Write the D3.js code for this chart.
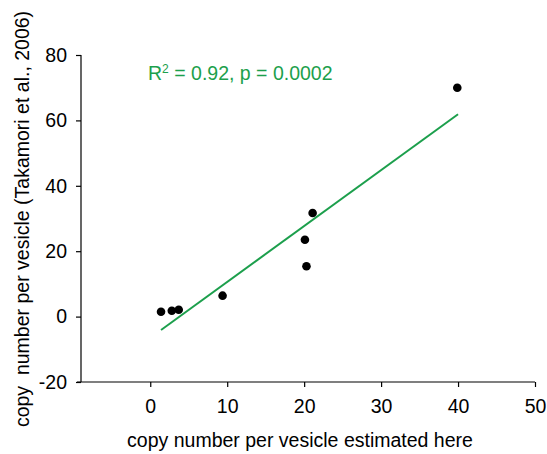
<!DOCTYPE html>
<html><head><meta charset="utf-8">
<script src="https://cdn.jsdelivr.net/npm/d3@7"></script>
<style>body{margin:0;background:#fff}svg{display:block}text{font-family:"Liberation Sans",Arial,sans-serif}</style>
</head><body><svg id="c" width="547" height="454"></svg>
<script>
const xData = [1.4, 2.8, 3.7, 9.4, 21.1, 20.1, 20.3, 39.9];
const yData = [1.5, 1.8, 2.1, 6.4, 31.7, 23.5, 15.4, 70.0];
const fitX = [1.4, 40];
const fitY = [-4.1, 61.9];
const xTicks = [0, 10, 20, 30, 40, 50];
const yTicks = [-20, 0, 20, 40, 60, 80];
const xTitle = "copy number per vesicle estimated here";
const yTitle = "copy  number per vesicle (Takamori et al., 2006)";
const statText = ["R", "2", " = 0.92, p = 0.0002"];

const svg = d3.select("#c");
const L = 81, R = 535, T = 55, B = 382;
const x = d3.scaleLinear().domain([-9, 50]).range([L, R]);
const y = d3.scaleLinear().domain([-20, 80]).range([B, T]);
const green = "#1c9f4c";
const fs = 19.5;

const xa = svg.append("g").attr("transform", `translate(0,${B})`)
  .call(d3.axisBottom(x).tickValues(xTicks).tickSize(5).tickPadding(12).tickFormat(d => String(d)));
const ya = svg.append("g").attr("transform", `translate(${L},0)`)
  .call(d3.axisLeft(y).tickValues(yTicks).tickSize(5).tickPadding(9).tickFormat(d => String(d)));
[xa, ya].forEach(g => {
  g.selectAll("text").attr("font-size", fs).attr("fill", "#000").attr("font-family", '"Liberation Sans",Arial,sans-serif');
  g.selectAll("line,path").attr("stroke", "#000").attr("stroke-width", 1.2);
});
xa.select(".domain").attr("d", `M${L-4},0H${R}`);
ya.select(".domain").attr("d", `M0,${T}V${B}`);

svg.append("line")
  .attr("x1", x(fitX[0])).attr("y1", y(fitY[0]))
  .attr("x2", x(fitX[1])).attr("y2", y(fitY[1]))
  .attr("stroke", green).attr("stroke-width", 2);

svg.selectAll("circle.pt").data(xData.map((d, i) => [d, yData[i]])).enter()
  .append("circle").attr("class", "pt")
  .attr("cx", d => x(d[0])).attr("cy", d => y(d[1])).attr("r", 4.3).attr("fill", "#000");

const st = svg.append("text").attr("x", 148).attr("y", 80).attr("fill", green).attr("font-size", fs);
st.append("tspan").text(statText[0]);
st.append("tspan").attr("font-size", fs * 0.62).attr("dy", -7).text(statText[1]);
st.append("tspan").attr("dy", 7).text(statText[2]);

svg.append("text").attr("x", 300).attr("y", 447).attr("text-anchor", "middle")
  .attr("font-size", fs).attr("fill", "#000").text(xTitle);

svg.append("text").attr("transform", "translate(29,219) rotate(-90)").attr("text-anchor", "middle")
  .attr("font-size", fs).attr("fill", "#000").style("white-space", "pre").text(yTitle);
</script></body></html>
